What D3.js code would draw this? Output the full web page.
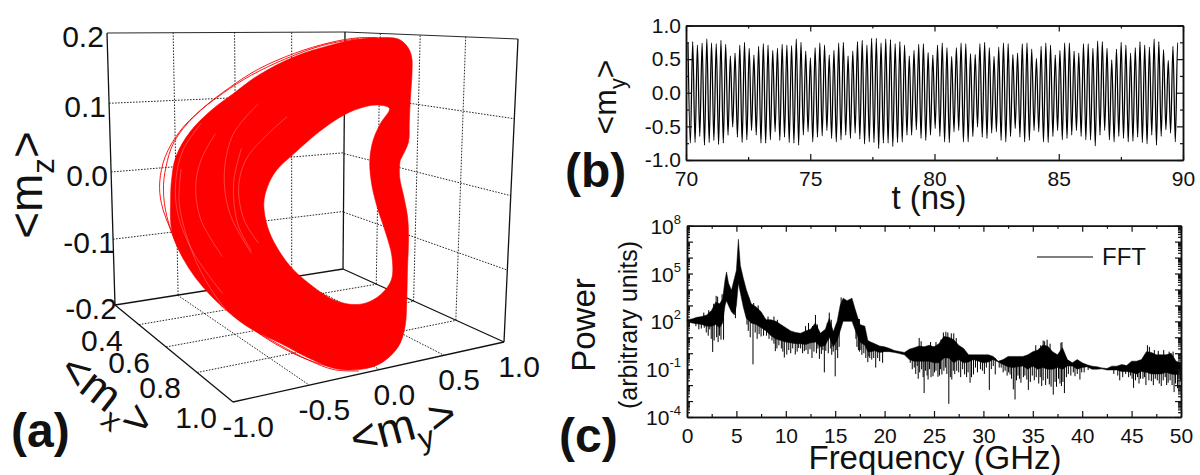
<!DOCTYPE html>
<html><head><meta charset="utf-8">
<script src="https://cdn.jsdelivr.net/npm/d3@7/dist/d3.min.js"></script>
<style>
html,body{margin:0;padding:0;background:#fff}
svg{display:block}
text{font-family:"Liberation Sans",Arial,sans-serif;fill:#111}
.domain{stroke:#111;stroke-width:1.5px}
.tick line{stroke:#111;stroke-width:1.2px}
</style></head><body>
<svg id="c" width="1200" height="475"></svg>
<script>
// ---------- panel (a): phase portrait, projected plane (my, mz)
const ayTicks=[-1,-0.5,0,0.5,1];
const azTicks=[-0.2,-0.1,0,0.1,0.2];
const axTicks=[0.2,0.4,0.6,0.8,1.0];
const orbitBodyOuterY=[.347,.457,.503,.525,.527,.518,.513,.509,.476,.467,.463,.485,.504,.509,.504,.500,.491,.457,.365,.254,.125,-.004,-.152,-.318,-.484,-.613,-.705,-.714,-.709,-.687,-.613,-.502,-.391,-.262,-.078,.107,.254];
const orbitBodyOuterZ=[.193,.191,.180,.165,.141,.101,.067,.040,.018,.013,-.011,-.041,-.070,-.104,-.144,-.193,-.232,-.261,-.286,-.295,-.293,-.278,-.256,-.232,-.193,-.149,-.095,-.046,-.016,.018,.055,.087,.111,.138,.165,.182,.191];
const orbitHoleY=[.411,.347,.254,.162,.051,-.078,-.170,-.216,-.235,-.216,-.170,-.096,-.004,.107,.208,.291,.365,.421,.424,.393,.347,.319,.310,.328,.365];
const orbitHoleZ=[.089,.094,.089,.077,.055,.023,-.002,-.026,-.051,-.085,-.114,-.144,-.168,-.190,-.199,-.197,-.185,-.163,-.129,-.095,-.055,-.021,.013,.043,.067];
const orbitStrayY=[.347,.254,.107,-.078,-.262,-.410,-.558,-.668,-.742,-.770,-.761,-.705,-.613,-.484,-.318,-.152,-.004,.125,.254];
const orbitStrayZ=[.193,.193,.186,.170,.147,.120,.087,.055,.018,-.019,-.051,-.095,-.146,-.190,-.230,-.259,-.281,-.295,-.297];
const orbitStray2Y=[.254,.070,-.115,-.299,-.447,-.595,-.696,-.738,-.751,-.733,-.678,-.576,-.447,-.299,-.133,.014,.144];
const orbitStray2Z=[.192,.182,.163,.138,.111,.077,.040,.003,-.031,-.070,-.114,-.158,-.198,-.234,-.264,-.283,-.293];
const gapAY=[-.558,-.650,-.687,-.678,-.595,-.447];
const gapAZ=[.067,.028,-.016,-.065,-.124,-.183];
const gapBY=[-.262,-.391,-.438,-.410,-.299];
const gapBZ=[.096,.052,-.006,-.065,-.124];
const gapCY=[-.115,-.318,-.364,-.336,-.262];
const gapCZ=[.077,.018,-.026,-.075,-.109];
const gapDY=[-.484,-.558,-.585,-.558,-.447];
const gapDZ=[.052,.013,-.026,-.075,-.129];
const gapEY=[-.35,-.39,-.37,-.30];
const gapEZ=[.03,-.02,-.08,-.12];
const gapFY=[-.66,-.67,-.63,-.56,-.45,-.32];
const gapFZ=[0,-.05,-.10,-.15,-.20,-.24];

// ---------- panel (b): successive maxima and minima of <my>
const myMax=[.74,.76,.71,.74,.80,.74,.73,.78,.72,.55,.59,.71,.75,.66,.56,.69,.73,.71,.63,.66,.72,.71,.70,.80,.75,.62,.52,.67,.74,.71,.56,.63,.74,.75,.55,
 .62,.76,.78,.71,.81,.81,.74,.80,.79,.73,.76,.71,.55,.63,.72,.73,.60,.56,.71,.74,.67,.54,.67,.74,.73,.58,.57,.73,.75,.67,.54,.68,.74,.73,.57,
 .59,.73,.74,.65,.51,.69,.74,.71,.56,.63,.74,.74,.62,.59,.73,.73,.66,.77,.76,.66,.49,.65,.75,.71,.59,.67,.76,.71,.68,.80,.76,.64,.48,.69,.75];
const myMin=[-.75,-.74,-.65,-.78,-.74,-.71,-.77,-.75,-.63,-.51,-.66,-.74,-.70,-.56,-.63,-.75,-.75,-.70,-.58,-.71,-.66,-.74,-.75,-.78,-.63,-.58,-.73,-.66,-.64,-.56,-.68,-.73,-.70,-.63,
 -.68,-.60,-.69,-.76,-.73,-.74,-.83,-.75,-.75,-.80,-.74,-.73,-.63,-.63,-.55,-.68,-.71,-.63,-.53,-.65,-.73,-.74,-.58,-.56,-.73,-.73,-.65,-.51,-.66,-.68,-.60,-.58,-.71,-.73,-.65,
 -.53,-.66,-.73,-.71,-.56,-.58,-.73,-.74,-.65,-.56,-.70,-.68,-.63,-.56,-.65,-.70,-.70,-.79,-.63,-.56,-.70,-.73,-.65,-.68,-.73,-.72,-.66,-.74,-.76,-.63,-.78,-.65,-.55,-.60,-.73];
const tStart=70.08, tEnd=89.88;
const bXTicks=[70,75,80,85,90], bXMinor=[72.5,77.5,82.5,87.5];
const bYTicks=[-1,-0.5,0,0.5,1], bYMinor=[-.75,-.25,.25,.75];

// ---------- panel (c): FFT body envelope (log10 power) and narrow spikes
const fftFreq=[0,.5,1,1.5,2,2.5,2.9,3.3,3.6,3.85,4,4.2,4.5,4.8,5,5.2,5.4,5.7,6,6.5,7,7.5,8,8.5,9,9.5,10,10.5,11,11.5,12,12.5,13,13.5,14,14.4,14.8,15.2,15.5,15.8,16.2,16.7,17,17.5,18,18.3,18.6,19,19.5,20,20.5,21,21.5,22,22.5,23,23.5,24,24.5,25,25.5,26,26.5,27,27.5,28,28.5,29,29.5,30,30.5,31,31.5,32,32.5,33,33.5,34,34.5,35,35.5,36,36.5,37,37.5,38,38.5,39,39.5,40,40.5,41,41.5,42,42.5,43,43.5,44,44.5,45,45.5,46,46.5,47,47.5,48,48.5,49,49.5,50];
const fftHi=[2.1,2.15,2.25,2.3,2.4,2.7,3.2,3.1,3.4,4.6,5.1,4.4,3.95,4.7,5.2,7.15,5.5,4.7,4.0,3.1,2.9,2.6,2.1,2.1,2.0,1.8,1.6,1.4,1.3,1.25,1.4,1.5,1.9,1.25,1.5,2.2,1.35,2.0,3.0,3.45,3.3,3.45,2.8,1.8,1.7,.8,.7,.6,.45,.4,.3,.17,.11,.05,.25,.35,.45,.4,.5,.4,.6,1.05,1.0,.85,.5,.3,-.1,-.1,-.1,-.1,-.1,-.2,-.5,-.4,-.2,-.2,-.2,-.2,-.1,.1,.2,.5,.45,.1,-.1,.35,-.4,-.6,-.4,-.6,-.73,-.81,-.85,-.92,-.96,-.81,-.81,-.71,-.77,-.5,-.5,-.4,.1,.05,-.1,-.1,-.1,0,-.5,-.6];
const fftLo=[2.0,1.9,1.85,1.8,1.7,1.7,1.8,1.6,1.9,3.0,3.3,3.0,2.6,2.4,3.0,4.4,3.8,2.9,2.2,1.9,1.8,1.6,1.4,1.1,.9,.8,.7,.65,.6,.6,.55,.65,.7,.4,.5,1.0,.4,.8,1.4,2.0,2.0,2.0,1.5,.7,.5,.1,.1,.15,.05,.1,.1,.05,-.02,-.1,-.4,-.5,-.5,-.5,-.5,-.6,-.6,-.3,-.3,-.6,-.4,-.6,-.55,-.4,-.5,-.6,-.55,-.4,-.55,-.7,-.85,-.9,-.85,-.8,-1,-.8,-1,-.9,-1,-1,-.9,-1,-.8,-.8,-1,-.9,-.85,-1,-1,-.98,-1.05,-1.05,-1.05,-1.15,-1.15,-1.2,-1.3,-1.15,-1.2,-1.3,-1.3,-1.3,-1.2,-1.3,-1.35,-1.1];
const fftSpikes=[[2.6,.08],[3.44,.85],[3.7,.85],[2.3,1.5],[1.75,1.6],[4.9,2.2],[6.07,1.8],[6.68,-.7],[7.5,1.05],[8.94,.13],[9.85,-.27],[10.1,-.08],[10.96,-.08],[11.3,.33],[11.88,.13],[12.65,-.3],[13.4,-.35],[13.9,-1.2],[14.3,0],[15.0,-1.45],[14.8,.1],[17.45,.1],[17.35,.2],[18.3,-.56],[19.1,-.9],[19.8,-.6],[18.5,-.3],[23.4,-1.6],[24.0,-2.5],[24.4,-1.65],[24.9,-1.44],[25.4,-1.48],[25.8,-1.33],[26.5,-3.17],[26.8,-1.65],[27.3,-1.1],[28.1,-1.33],[28.65,-1.85],[29,-1.33],[30.6,-2.3],[31.2,-1.33],[32.7,-1.33],[33.2,-2.9],[33.03,-2.27],[33.8,-1.85],[34.4,-1.65],[34.55,-2.3],[35.9,-2.06],[37.07,-2.6],[36.67,-1.96],[38.2,-2.5],[37.9,-2.06],[39.27,-1.44],[39.77,-1.65],[43.8,-1.7],[45.2,-2.17],[45.9,-1.6],[47,-1.75],[48,-2.06],[48.7,-1.85],[49.3,-2.44],[49.8,-2.06],
[.9,1.7],[1.2,1.5],[1.45,1.55],[1.95,1.3],[2.15,1.1],[2.45,.9],[2.75,.8],[3.0,1.0],[3.15,.7],[3.3,1.1],[6.2,1.4],[6.4,1.0],[6.9,1.3],[7.1,.9],[7.3,1.2],[7.75,1.1],[8.05,1.1],[8.3,.9],[8.6,.8],[8.8,.6],[9.1,.3],[9.3,.5],[9.55,.3],[9.7,.1],[10.3,.2],[10.5,0],[10.7,.3],[11.15,.1],[11.5,.3],[11.7,0],[12.05,.2],[12.25,-.05],[12.45,.25],[12.85,.1],[13.1,0],[13.25,.3],[13.6,-.05],[13.75,.2],[14.05,.15],[14.55,.3],[14.65,-.1],[15.1,.2],[15.25,-.3],[15.4,.4],[17.1,.9],[17.2,.4],[17.6,.2],[17.7,-.1],[17.9,0],[18.1,-.3],[18.4,-.2],[18.7,-.4],[18.9,-.3],[19.3,-.3],[19.5,-.5],
[22.6,-.6],[22.8,-1.0],[23,-.9],[23.15,-1.3],[23.3,-.8],[23.55,-1.2],[23.75,-1],[23.9,-1.5],[24.15,-1.1],[24.3,-1.4],[24.55,-1],[24.7,-1.5],[25.05,-1.2],[25.2,-1.1],[25.55,-1.4],[25.65,-1],[26,-1.1],[26.15,-.9],[26.3,-1.3],[26.65,-1.5],[26.95,-1.1],[27.1,-1.3],[27.5,-1.2],[27.7,-1.5],[27.9,-1],[28.3,-1.5],[28.45,-1.2],[28.8,-1.5],[29.2,-.9],[29.4,-1.2],[29.7,-1],[29.9,-1.1],[30.1,-1.3],[30.3,-.9],[30.8,-1],[31,-.8],[31.6,-.9],[31.8,-.9],[32,-1.2],[32.2,-1.1],[32.4,-1.4],[32.55,-1.2],[32.85,-1.6],[33.35,-1.7],[33.5,-1.4],[33.65,-1.6],[34.05,-1.5],[34.2,-1.4],[34.75,-1.8],[34.95,-1.4],[35.15,-1.7],[35.35,-1.5],[35.6,-1.9],[35.75,-1.5],[36.05,-1.7],[36.3,-2],[36.5,-1.6],[36.85,-2.1],[37.25,-1.8],[37.4,-2.1],[37.6,-1.6],[37.75,-1.9],[38.05,-1.8],[38.4,-1.5],[38.6,-1.3],[38.85,-1.4],[39.1,-1.2],[39.5,-1.3],[39.95,-1.2],[40.2,-1.2],[40.6,-1.05],[43.2,-1.3],[43.6,-1.4],[44.1,-1.5],[44.4,-1.3],[44.7,-1.5],[44.9,-1.4],[45.05,-1.6],[45.4,-1.7],[45.6,-1.5],[45.75,-1.9],[46.15,-1.6],[46.3,-1.5],[46.45,-2],[46.75,-1.7],[47.2,-2],[47.4,-1.6],[47.6,-1.7],[47.8,-1.9],[48.2,-1.7],[48.4,-1.5],[48.55,-2],[48.9,-1.7],[49.1,-2],[49.45,-1.9],[49.65,-2.2],[49.95,-1.7],
[23.5,.96],[36.2,.75],[37.95,.7],[46.6,.5],[26.2,1.35],[27,1.25],[12.3,1.9],[13,2.4],[14.4,2.55],[15.6,3.5],[23.7,.75],[24.65,.7],[25.2,.7],[25.7,.85],[25.95,1.3],[26.4,1.3],[26.75,1.25],[27.25,.95],[35.3,.5],[35.8,.5],[36.05,.8],[36.45,.85],[36.75,.6],[37.85,.65],[46.8,.4],[47.3,.2],[47.7,.15],[48.25,.2],[48.8,.1],[49.2,.1],[12,1.7],[12.7,1.7],[13.2,1.8],[14.2,1.9],[14.6,2.1],[8.2,2.3],[8.8,2.3],[9.15,2.1],[7.2,3],[6.75,3.15],[6.25,3.5],[3.1,3.55],[2.7,3.1],[2.2,2.7],[1.7,2.55],[2.95,3.6],[3.55,3.7]];
const cXTicks=[0,5,10,15,20,25,30,35,40,45,50], cXMinor=[2.5,7.5,12.5,17.5,22.5,27.5,32.5,37.5,42.5,47.5];
const cYLabelExp=[8,5,2,-1,-4];
const cYDecades=[8,7,6,5,4,3,2,1,0,-1,-2,-3,-4];

const svg=d3.select("#c");

// ---------- projective helper for the walls of the 3-D box
function homography(p00,p10,p11,p01){
  const [x0,y0]=p00,[x1,y1]=p10,[x2,y2]=p11,[x3,y3]=p01;
  const dx1=x1-x2,dx2=x3-x2,dx3=x0-x1+x2-x3,dy1=y1-y2,dy2=y3-y2,dy3=y0-y1+y2-y3;
  const det=dx1*dy2-dx2*dy1;
  const g=(dx3*dy2-dx2*dy3)/det,h=(dx1*dy3-dx3*dy1)/det;
  const a=x1-x0+g*x1,b=x3-x0+h*x3,d=y1-y0+g*y1,e=y3-y0+h*y3;
  return (u,v)=>{const w=g*u+h*v+1;return [(a*u+b*v+x0)/w,(d*u+e*v+y0)/w];};
}
const A=[115,305],B=[343,269],C=[504,342],D=[233,402],At=[107,33],Bt=[345,32],Ct=[518,39];
const uS=d3.scaleLinear().domain([-1,1]).range([0,1]);
const vS=d3.scaleLinear().domain([0.2,1]).range([0,1]);
const wS=d3.scaleLinear().domain([-0.2,0.2]).range([0,1]);
const leftWall=homography(A,B,Bt,At), rightWall=homography(B,C,Ct,Bt), floor=homography(A,B,C,D);
const ga=svg.append("g");
function seg(p,q,cls){
  ga.append("line").attr("x1",p[0]).attr("y1",p[1]).attr("x2",q[0]).attr("y2",q[1])
   .attr("stroke","#111").attr("stroke-width",cls?1.3:0.9).attr("stroke-dasharray",cls?null:"1.6 1.4");
}
ayTicks.slice(1,-1).forEach(t=>{const u=uS(t);seg(leftWall(u,0),leftWall(u,1));seg(floor(u,0),floor(u,1));});
axTicks.slice(1,-1).forEach(t=>{const v=vS(t);seg(rightWall(v,0),rightWall(v,1));seg(floor(0,v),floor(1,v));});
azTicks.slice(1,-1).forEach(t=>{const w=wS(t);seg(leftWall(0,w),leftWall(1,w));seg(rightWall(0,w),rightWall(1,w));});
[[A,B],[B,C],[C,D],[D,A],[At,A],[Bt,B],[Ct,C]].forEach(s=>seg(s[0],s[1],true));
ga.append("line").attr("x1",At[0]).attr("y1",At[1]).attr("x2",Bt[0]).attr("y2",Bt[1]).attr("stroke","#111").attr("stroke-width",.9);
ga.append("line").attr("x1",Bt[0]).attr("y1",Bt[1]).attr("x2",Ct[0]).attr("y2",Ct[1]).attr("stroke","#111").attr("stroke-width",.9);

// red trajectory
const pxY=d3.scaleLinear().domain([-1,1]).range([115,504]);
const pxZ=d3.scaleLinear().domain([-0.2,0.2]).range([305,33]);
const zip=(a,b)=>a.map((v,i)=>[pxY(v),pxZ(b[i])]);
const closed=d3.line().curve(d3.curveCatmullRomClosed.alpha(.5));
const open=d3.line().curve(d3.curveCatmullRom.alpha(.5));
ga.append("path").attr("fill-rule","evenodd").attr("fill","#fe0000").attr("stroke","#fe0000").attr("stroke-width",.6)
  .attr("d",closed(zip(orbitBodyOuterY,orbitBodyOuterZ))+closed(zip(orbitHoleY,orbitHoleZ)));
[[orbitStrayY,orbitStrayZ],[orbitStray2Y,orbitStray2Z]].forEach(o=>{
  ga.append("path").attr("fill","none").attr("stroke","#fe0000").attr("stroke-width",.9).attr("d",open(zip(o[0],o[1])));
});
[[gapAY,gapAZ],[gapBY,gapBZ],[gapCY,gapCZ],[gapDY,gapDZ],[gapEY,gapEZ],[gapFY,gapFZ]].forEach(g=>{
  ga.append("path").attr("fill","none").attr("stroke","#fff").attr("stroke-opacity",.5).attr("stroke-width",.5).attr("d",open(zip(g[0],g[1])));
});

function label(x,y,s,size,o={}){
  const t=svg.append("text").attr("x",x).attr("y",y).attr("font-size",size).attr("text-anchor",o.anchor||"middle").text(s);
  if(o.weight)t.attr("font-weight",o.weight);
  if(o.rot!==undefined)t.attr("transform",`rotate(${o.rot} ${x} ${y})`);
  return t;
}
function subLabel(x,y,pre,sub,post,size,rot){
  const t=svg.append("text").attr("x",x).attr("y",y).attr("font-size",size).attr("text-anchor","middle").attr("transform",`rotate(${rot} ${x} ${y})`);
  t.append("tspan").text(pre);
  t.append("tspan").attr("font-size",size*.68).attr("dy",size*.27).text(sub);
  t.append("tspan").attr("dy",-size*.27).text(post);
}
const f1=v=>d3.format(".1f")(v).replace("\u2212","-");
azTicks.forEach(t=>{const p=leftWall(0,wS(t));label(p[0]-24,p[1]+14,f1(t),30);});
axTicks.slice(1).forEach(t=>{const p=floor(0,vS(t));label(p[0]-37,p[1]+26,f1(t),30);});
ayTicks.forEach(t=>{const p=floor(uS(t),1);label(p[0]+15,p[1]+35,f1(t),30);});
subLabel(42,185,"<m","z",">",46,-90);
subLabel(98,407,"<m","x",">",45,38);
subLabel(407,441,"<m","y",">",46,-15);
label(11,447,"(a)",48,{anchor:"start",weight:"bold"});

// ---------- panel (b)
const bX=d3.scaleLinear().domain([70,90]).range([686,1183]);
const bY=d3.scaleLinear().domain([-1,1]).range([160,25.5]);
function frame(g,x,y,xt,xm,yt,ym,fmtY){
  const r=x.range(),b=y.range();
  g.append("g").attr("transform",`translate(0,${b[0]})`).call(d3.axisBottom(x).tickValues(xt).tickSize(-6).tickSizeOuter(0).tickFormat(d3.format("d")))
    .call(s=>s.selectAll("text").attr("y",11).attr("font-size",21).attr("font-family",null).style("fill","#111"));
  g.append("g").attr("transform",`translate(0,${b[0]})`).call(d3.axisBottom(x).tickValues(xm).tickSize(-3).tickSizeOuter(0).tickFormat(""));
  g.append("g").attr("transform",`translate(0,${b[1]})`).call(d3.axisTop(x).tickValues(xt).tickSize(-6).tickSizeOuter(0).tickFormat(""));
  g.append("g").attr("transform",`translate(0,${b[1]})`).call(d3.axisTop(x).tickValues(xm).tickSize(-3).tickSizeOuter(0).tickFormat(""));
  g.append("g").attr("transform",`translate(${r[0]},0)`).call(d3.axisLeft(y).tickValues(yt).tickSize(-6).tickSizeOuter(0).tickFormat(fmtY||""))
    .call(s=>s.selectAll("text").attr("x",-5).attr("font-size",21).attr("font-family",null).style("fill","#111"));
  g.append("g").attr("transform",`translate(${r[0]},0)`).call(d3.axisLeft(y).tickValues(ym).tickSize(-3).tickSizeOuter(0).tickFormat(""));
  g.append("g").attr("transform",`translate(${r[1]},0)`).call(d3.axisRight(y).tickValues(yt).tickSize(-6).tickSizeOuter(0).tickFormat(""));
  g.append("g").attr("transform",`translate(${r[1]},0)`).call(d3.axisRight(y).tickValues(ym).tickSize(-3).tickSizeOuter(0).tickFormat(""));
}
const idxT=d3.scaleLinear().domain([0,2*myMax.length-1]).range([tStart,tEnd]);
const bSeries=[];
myMax.forEach((v,i)=>{bSeries.push(v);bSeries.push(myMin[i]);});
const gb=svg.append("g");
gb.append("path").attr("fill","none").attr("stroke","#000").attr("stroke-width",1.25)
  .attr("d",d3.line().curve(d3.curveMonotoneX).x((d,i)=>bX(idxT(i))).y(d=>bY(d))(bSeries));
frame(gb,bX,bY,bXTicks,bXMinor,bYTicks,bYMinor,f1);
label(929,209,"t (ns)",33);
subLabel(616,97,"<m","y",">",32,-90);
label(565,187,"(b)",48,{anchor:"start",weight:"bold"});

// ---------- panel (c)
const cX=d3.scaleLinear().domain([0,50]).range([687,1181]);
const cY=d3.scaleLog().domain([1e-4,1e8]).range([417,225.7]);
const pow=e=>Math.pow(10,e);
const gc=svg.append("g");
gc.append("path").attr("fill","#000").attr("stroke","#000").attr("stroke-width",.5)
  .attr("d",d3.area().x(d=>cX(d[0])).y0(d=>cY(pow(d[2]))).y1(d=>cY(pow(d[1])))(fftFreq.map((f,i)=>[f,fftHi[i],fftLo[i]])));
const inBody=f=>{const i=Math.max(0,d3.bisectRight(fftFreq,f)-1);return (fftHi[i]+fftLo[i])/2;};
gc.selectAll("line.sp").data(fftSpikes).enter().append("line").attr("class","sp")
  .attr("x1",d=>cX(d[0])).attr("x2",d=>cX(d[0]))
  .attr("y1",d=>cY(pow(inBody(d[0])))).attr("y2",d=>cY(pow(d[1])))
  .attr("stroke","#000").attr("stroke-width",1);
const minorDec=[];
cYDecades.slice(1).forEach(e=>{[2,3,4,5,6,7,8,9].forEach(m=>minorDec.push(m*pow(e)));});
frame(gc,cX,cY,cXTicks,cXMinor,cYDecades.map(pow),minorDec,null);
cYLabelExp.forEach(e=>{
  const t=svg.append("text").attr("x",681).attr("y",cY(pow(e))+8).attr("font-size",21).attr("text-anchor","end");
  t.append("tspan").text("10");
  t.append("tspan").attr("font-size",13).attr("dy",-10).text(e);
});
svg.append("line").attr("x1",1037).attr("x2",1093).attr("y1",257).attr("y2",257).attr("stroke","#555").attr("stroke-width",1.3);
label(1102,265,"FFT",24,{anchor:"start"});
label(935,469,"Frequency (GHz)",33);
label(595,325,"Power",33,{rot:-90});
label(637,325,"(arbitrary units)",25,{rot:-90});
label(559,452,"(c)",48,{anchor:"start",weight:"bold"});
</script></body></html>
